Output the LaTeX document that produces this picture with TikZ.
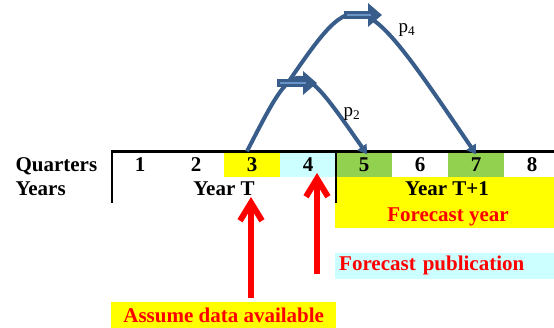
\documentclass[tikz,border=0pt]{standalone}
\usepackage{fontspec}
\setmainfont{Liberation Serif}
\usetikzlibrary{positioning,arrows.meta}
\definecolor{qyellow}{RGB}{255,255,0}
\definecolor{qcyan}{RGB}{204,255,255}
\definecolor{qgreen}{RGB}{146,208,80}
\definecolor{arcblue}{RGB}{56,93,138}
\definecolor{arcfill}{RGB}{79,129,189}
\definecolor{qred}{RGB}{255,0,0}
\tikzset{
  big/.style={font=\fontsize{21}{24}\selectfont\bfseries},
  cell/.style={big,minimum width=56pt,minimum height=25.5pt,inner sep=0pt},
  rule/.style={line width=2.6pt,line join=miter},
  hop/.style={draw=arcblue,line width=4pt,-{Triangle[length=9pt,width=11pt]}},
  peakarrow/.style={arcblue,line width=8.5pt,-{Triangle[length=14pt,width=23pt]}},
  peakshine/.style={arcfill!85!white,line width=2.5pt},
  uparrow/.style={qred,line width=6pt,-{Straight Barb[length=18pt,width=22pt]}},
  plabel/.style={font=\fontsize{19}{22}\selectfont},
}
\begin{document}
\begin{tikzpicture}[x=1pt,y=1pt]
  \useasboundingbox (0,0) rectangle (554,328);
  \node[fill=qyellow,minimum width=219pt,minimum height=50.5pt,inner sep=0pt,anchor=north west] (nextyear) at (335,151) {};
  \node[cell] (q1) at (140,163.75) {1};
  \node[cell] (q2) at (196,163.75) {2};
  \node[cell,fill=qyellow] (q3) at (252,163.75) {3};
  \node[cell,fill=qcyan] (q4) at (308,163.75) {4};
  \node[cell,fill=qgreen] (q5) at (364,163.75) {5};
  \node[cell] (q6) at (420,163.75) {6};
  \node[cell,fill=qgreen] (q7) at (476,163.75) {7};
  \node[cell] (q8) at (532,163.75) {8};
  \node[big,anchor=base west] (quarters) at (12,156.3) {Quarters};
  \node[big,anchor=base west] (years) at (12,132) {Years};
  \node[big,anchor=base] (yearT) at (224,132) {Year T};
  \node[big,anchor=base] (yearT1) at (447,132) {Year T+1};
  \node[big,qred,anchor=base] (fyear) at (448,106) {Forecast year};
  \node[big,qred,fill=qcyan,anchor=south west,inner xsep=4pt,inner ysep=0pt,text width=211pt,minimum height=26pt,align=left] (pub) at (335,49) {Forecast publication};
  \node[big,qred,fill=qyellow,anchor=south west,inner sep=0pt,minimum width=225pt,minimum height=25.5pt] (assume) at (111,0) {Assume data available};
  \draw[rule] ([yshift=-51.5pt]q1.north west) -- (q1.north west) -- (q8.north east);
  \draw[rule] ([yshift=-51.5pt]q5.north west) -- (q5.north west);
  \draw[hop] ([xshift=-5pt]q3.north) .. controls (297,274) and (297,274) .. ([shift={(3pt,-3pt)}]q5.north) coordinate[pos=0.35] (fork);
  \draw[hop] (fork) .. controls (358,347) and (358,347) .. ([yshift=-3pt]q7.north);
  \draw[peakarrow] (277,245) -- (317,245);
  \draw[peakshine] (280,245) -- (306,245);
  \draw[peakarrow] (344,313) -- (382,313);
  \draw[peakshine] (347,313) -- (371,313);
  \node[plabel,anchor=base west] (ptwo) at (340,211) {p\textsubscript{2}};
  \node[plabel,anchor=base west] (pfour) at (395,295) {p\textsubscript{4}};
  \coordinate (availbase) at (251,30);
  \coordinate (availtip) at (251,131);
  \coordinate (pubbase) at (317,54);
  \coordinate (pubtip) at (317,155);
  \draw[uparrow] (availbase) -- (availtip);
  \draw[uparrow] (pubbase) -- (pubtip);
\end{tikzpicture}
\end{document}
